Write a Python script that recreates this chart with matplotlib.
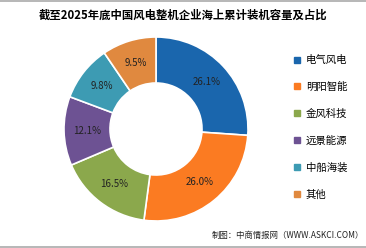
import matplotlib
matplotlib.use('Agg')
import matplotlib.pyplot as plt
from matplotlib.lines import Line2D

plt.rcParams['font.family'] = ['Noto Sans CJK SC', 'DejaVu Sans']

# 数据
companies = ['电气风电', '明阳智能', '金风科技', '远景能源', '中船海装', '其他']
shares = [26.1, 26.0, 16.5, 12.1, 9.8, 9.5]
colors = ['#1a66ad', '#fb7b22', '#8ba84c', '#6d5293', '#3d9bb3', '#e0893f']

W, H = 366, 248
fig = plt.figure(figsize=(W / 100, H / 100), dpi=100)

# 饼图位置 (像素换算)
cx, cy, r = 156, 129, 92
ax = fig.add_axes([(cx - r) / W, (H - cy - r) / H, 2 * r / W, 2 * r / H])
wedges, texts, autotexts = ax.pie(
    shares, colors=colors, startangle=90, counterclock=False,
    autopct='%.1f%%', pctdistance=0.75,
    wedgeprops=dict(width=0.5, edgecolor='white', linewidth=1.2),
    textprops=dict(fontsize=7, color='#222222'))
ax.set_xlim(-1, 1)
ax.set_ylim(-1, 1)
ax.set_aspect('equal')
ax.axis('off')

# 标题
fig.text(0.5, 1 - 15 / H, '截至2025年底中国风电整机企业海上累计装机容量及占比',
         ha='center', va='center', fontsize=8.2, fontweight='bold')

# 图例
handles = [Line2D([], [], marker='s', linestyle='', markersize=4,
                  markerfacecolor=c, markeredgecolor=c) for c in colors]
fig.legend(handles, companies, loc='upper left',
           bbox_to_anchor=(289 / W, 1 - 50 / H), frameon=False,
           fontsize=7.5, labelspacing=1.6, handlelength=0.6,
           handletextpad=0.5, borderpad=0)

# 来源
fig.text(1 - 2 / W, 1 - 235 / H, '制图：中商情报网（WWW.ASKCI.COM）',
         ha='right', va='center', fontsize=6, color='#222222')

# 上下边线
fig.add_artist(Line2D([0, 1], [1 - 0.5 / H, 1 - 0.5 / H], color='#aaaaaa', linewidth=1.2))
fig.add_artist(Line2D([0, 1], [1.5 / H, 1.5 / H], color='#aaaaaa', linewidth=1.2))

fig.savefig('out.png', dpi=100)
